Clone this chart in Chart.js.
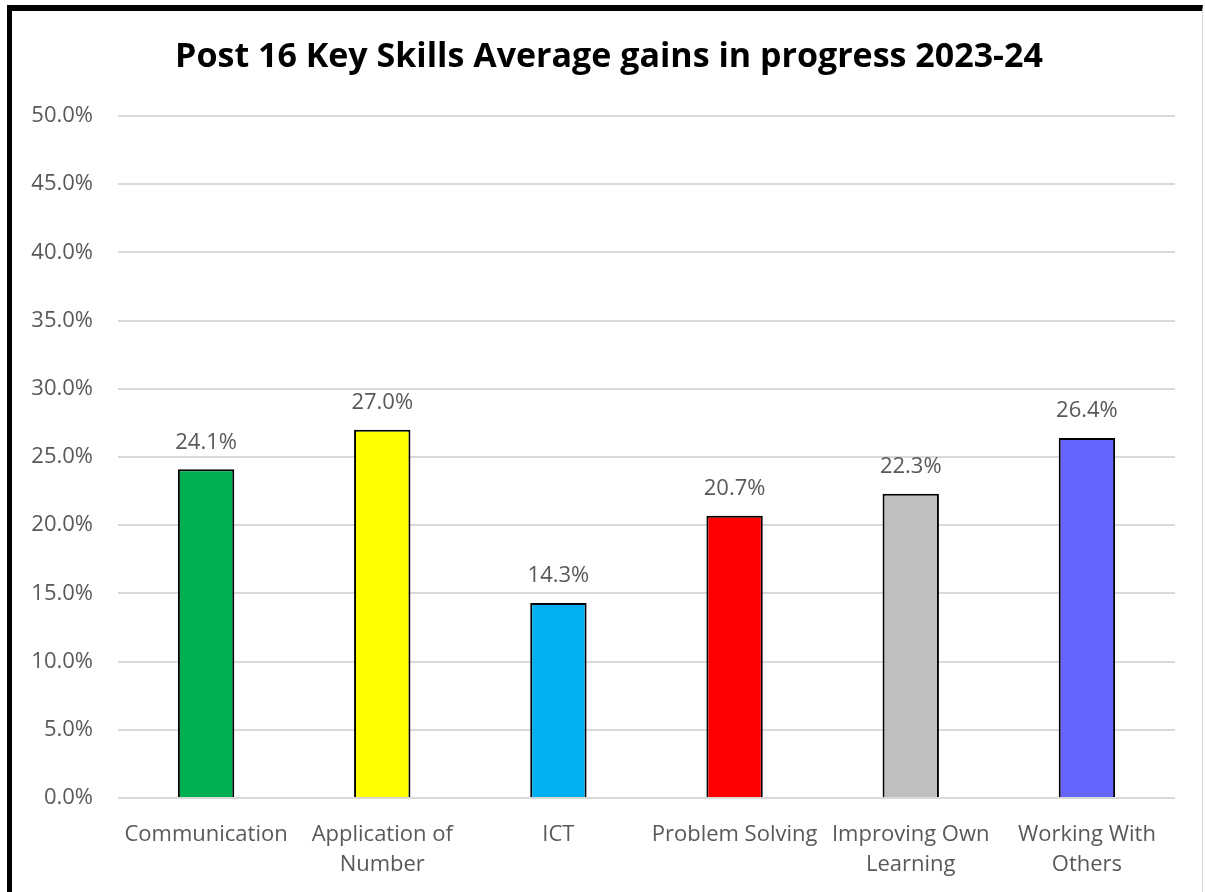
<!DOCTYPE html>
<html lang="en">
<head>
    <meta charset="UTF-8">
    <title>Post 16 Key Skills Average gains in progress 2023-24</title>
    <script src="https://cdn.jsdelivr.net/npm/chart.js"></script>
    <style>
        * { margin: 0; padding: 0; box-sizing: border-box; }
        body { background: #ffffff; width: 1205px; height: 892px; overflow: hidden; }
        .frame {
            position: absolute;
            left: 7px; top: 5px;
            width: 1196px; height: 900px;
            border-left: 5px solid #000;
            border-top: 6px solid #000;
            border-right: 1px solid #d9d9d9;
        }
        .chart-box { position: absolute; left: 0; top: 0; width: 1205px; height: 892px; }
    </style>
</head>
<body>
    <div class="frame"></div>
    <div class="chart-box"><canvas id="skillsChart"></canvas></div>

    <script>
        const chartTitle = 'Post 16 Key Skills Average gains in progress 2023-24';
        const categories = ['Communication', ['Application of', 'Number'], 'ICT', 'Problem Solving', ['Improving Own', 'Learning'], ['Working With', 'Others']];
        const gains = [24.1, 27.0, 14.3, 20.7, 22.3, 26.4];
        const barColours = ['#00B050', '#FFFF00', '#00B0F0', '#FF0000', '#BFBFBF', '#6666FF'];
        const yTicks = [0, 5, 10, 15, 20, 25, 30, 35, 40, 45, 50];

        const fontFamily = "'Open Sans', sans-serif";
        const textGrey = '#595959';

        // value labels above each bar + title centred on the whole frame
        const valueLabels = {
            id: 'valueLabels',
            afterDatasetsDraw(chart) {
                const ctx = chart.ctx;
                const meta = chart.getDatasetMeta(0);
                ctx.save();
                ctx.font = '22px ' + fontFamily;
                ctx.fillStyle = textGrey;
                ctx.textAlign = 'center';
                ctx.textBaseline = 'bottom';
                meta.data.forEach((bar, i) => {
                    ctx.fillText(gains[i].toFixed(1) + '%', bar.x, bar.y - 16);
                });
                ctx.font = 'bold 34px ' + fontFamily;
                ctx.fillStyle = '#000000';
                ctx.textBaseline = 'middle';
                ctx.fillText(chartTitle, 609, 57);
                ctx.restore();
            }
        };

        const initChart = () => {
            const ctx = document.getElementById('skillsChart').getContext('2d');
            new Chart(ctx, {
                type: 'bar',
                data: {
                    labels: categories,
                    datasets: [{
                        data: gains,
                        backgroundColor: barColours,
                        borderColor: '#000000',
                        borderWidth: 2,
                        barPercentage: 0.32,
                        categoryPercentage: 1
                    }]
                },
                options: {
                    responsive: true,
                    maintainAspectRatio: false,
                    animation: false,
                    layout: { padding: { left: 0, right: 30, top: 116, bottom: 0 } },
                    plugins: {
                        legend: { display: false },
                        tooltip: { enabled: false },
                        title: { display: false }
                    },
                    scales: {
                        x: {
                            grid: { display: false },
                            border: { display: false },
                            ticks: {
                                color: textGrey,
                                font: { family: fontFamily, size: 22, lineHeight: 1.36 },
                                padding: 14,
                                maxRotation: 0,
                                autoSkip: false
                            },
                            afterFit(scale) { scale.height = 94; }
                        },
                        y: {
                            min: 0,
                            max: 50,
                            afterBuildTicks(scale) { scale.ticks = yTicks.map(v => ({ value: v })); },
                            grid: { color: '#d9d9d9', lineWidth: 2, drawTicks: false },
                            border: { display: false },
                            ticks: {
                                color: textGrey,
                                font: { family: fontFamily, size: 22 },
                                padding: 25,
                                callback: v => v.toFixed(1) + '%'
                            },
                            afterFit(scale) { scale.width = 118; }
                        }
                    }
                },
                plugins: [valueLabels]
            });
        };

        document.addEventListener('DOMContentLoaded', initChart);
    </script>
</body>
</html>
